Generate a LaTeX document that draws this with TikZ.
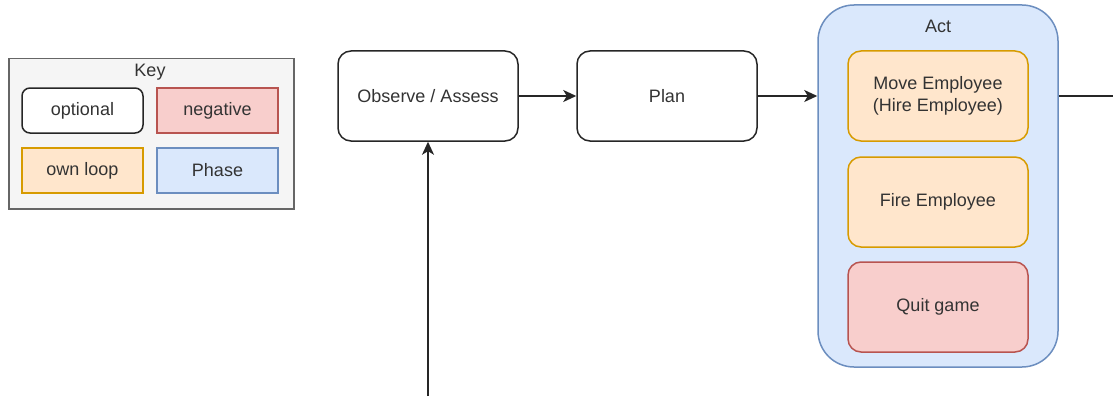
\documentclass[tikz,border=0pt]{standalone}
\usepackage{fontspec}
\setmainfont{Liberation Sans}
\usetikzlibrary{arrows.meta}
\definecolor{keyfill}{HTML}{F5F5F5}
\definecolor{keyline}{HTML}{666666}
\definecolor{negfill}{HTML}{F8CECC}
\definecolor{negline}{HTML}{B85450}
\definecolor{loopfill}{HTML}{FFE6CC}
\definecolor{loopline}{HTML}{D79B00}
\definecolor{phasefill}{HTML}{DAE8FC}
\definecolor{phaseline}{HTML}{6C8EBF}
\definecolor{ink}{HTML}{333333}
\tikzset{
  base/.style={draw, line width=1.5pt, inner sep=0pt, text=ink,
    font=\fontsize{18}{22.5}\selectfont, align=center},
  stepbox/.style={base, draw=black!85, fill=white, rounded corners=13pt,
    minimum width=180pt, minimum height=90pt},
  keybox/.style={base, minimum width=121pt, minimum height=45pt},
  loopbox/.style={base, draw=loopline, fill=loopfill, rounded corners=13pt,
    minimum width=180pt, minimum height=90pt},
  negbox/.style={base, draw=negline, fill=negfill, rounded corners=13pt,
    minimum width=180pt, minimum height=90pt},
  flow/.style={line width=1.5pt, draw=black!85,
    -{Stealth[length=13pt,width=12pt,inset=3.5pt]}},
  plainflow/.style={line width=1.5pt, draw=black!85},
}
\begin{document}
\begin{tikzpicture}[x=1pt,y=-1pt]
\useasboundingbox (0,0) rectangle (1113,396);

% legend
\node[base, draw=keyline, fill=keyfill, minimum width=285pt, minimum height=150pt,
      anchor=north west] (key) at (8,58) {};
\node[text=ink, font=\fontsize{18}{21}\selectfont, inner sep=0pt] (keytitle) at (150,72) {Key};
\node[keybox, draw=black!85, fill=white, rounded corners=8pt] (kopt) at (82.5,110.5) {optional};
\node[keybox, draw=negline, fill=negfill] (kneg) at (217.5,110.5) {negative};
\node[keybox, draw=loopline, fill=loopfill] (kloop) at (82.5,170.5) {own loop};
\node[keybox, draw=phaseline, fill=phasefill] (kphase) at (217.5,170.5) {Phase};

% phases
\node[stepbox] (obs) at (428,96) {Observe / Assess};
\node[stepbox] (plan) at (667,96) {Plan};

\node[base, draw=phaseline, fill=phasefill, rounded corners=36pt,
      minimum width=240pt, minimum height=362pt] (act) at (938,186) {};
\node[text=ink, font=\fontsize{18}{21}\selectfont, inner sep=0pt] (acttitle) at (938,26) {Act};
\node[loopbox] (move) at (938,96) {Move Employee\\(Hire Employee)};
\node[loopbox] (fire) at (938,202) {Fire Employee};
\node[negbox] (quit) at (938,307) {Quit game};

% connectors
\coordinate (inflow) at (428,396);
\coordinate (outflow) at (1113,96);
\draw[flow] (obs.east) -- (plan.west);
\draw[flow] (plan.east) -- (plan.east -| act.west);
\draw[plainflow] (outflow -| act.east) -- (outflow);
\draw[flow] (inflow) -- (obs.south);
\end{tikzpicture}
\end{document}
